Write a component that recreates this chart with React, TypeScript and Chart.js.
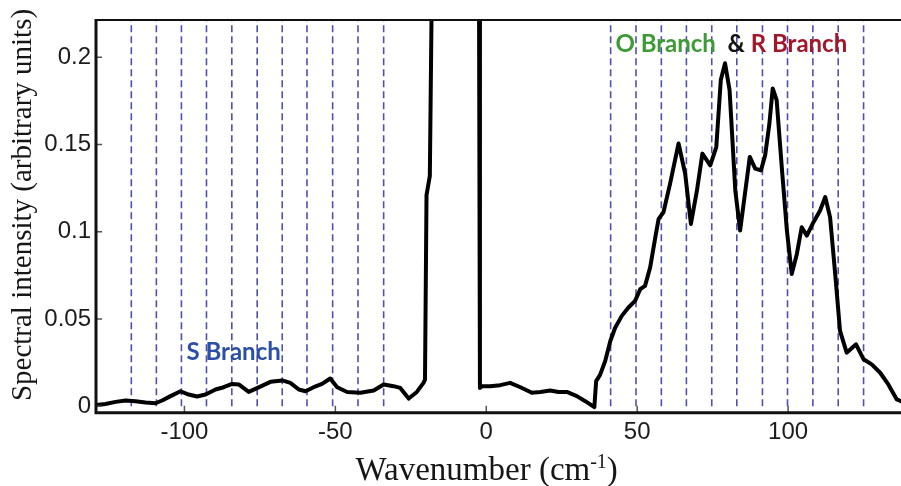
import { useEffect, useRef } from 'react';
import { Chart, registerables } from 'chart.js';

Chart.register(...registerables);

// Spectrum trace (wavenumber in cm^-1, intensity in arbitrary units)
const wavenumber = [
  -129.5, -126.2, -122.8, -119.5, -116.2, -112.9, -109.6, -107.4, -104.6, -101.3,
  -98.6, -95.8, -93.0, -89.7, -87.0, -84.2, -82.0, -78.7, -75.4, -71.5,
  -67.6, -64.9, -62.1, -59.9, -57.2, -54.4, -51.7, -49.4, -46.1, -41.7,
  -37.3, -34.0, -30.7, -28.5, -25.7, -23.0, -20.8, -20.3, -19.8, -18.7,
  -18.1, -10.0, -2.4, -2.1, -1.4, 1.3, 4.6, 7.9, 11.3, 15.1,
  17.9, 21.2, 23.9, 26.7, 30.0, 32.8, 35.8, 36.4, 37.7, 39.4,
  41.1, 42.7, 44.9, 47.1, 49.3, 51.0, 52.6, 54.3, 56.0, 57.1,
  58.7, 60.9, 63.7, 65.9, 67.8, 69.8, 71.6, 74.2, 76.2, 77.7,
  79.1, 80.6, 82.5, 84.1, 87.3, 89.1, 91.0, 92.4, 93.8, 94.9,
  96.2, 97.9, 99.6, 101.2, 102.9, 104.5, 106.2, 108.4, 110.6, 112.3,
  113.9, 115.6, 117.2, 119.4, 122.5, 125.0, 127.7, 130.5, 133.2, 136.0,
  137.4,
];
const intensity = [
  0.0006, 0.0013, 0.0025, 0.0033, 0.0029, 0.0021, 0.0017, 0.0033, 0.0058, 0.0086,
  0.0067, 0.0056, 0.0067, 0.0096, 0.0109, 0.0128, 0.0125, 0.0082, 0.0108, 0.014,
  0.0148, 0.0134, 0.0096, 0.0086, 0.0109, 0.0128, 0.0159, 0.0109, 0.0082, 0.0077,
  0.009, 0.0125, 0.0115, 0.0105, 0.0044, 0.0082, 0.0134, 0.0153, 0.121, 0.132,
  0.23, 0.6, 0.23, 0.0105, 0.0115, 0.0115, 0.0121, 0.0134, 0.0109, 0.0077,
  0.0082, 0.009, 0.0082, 0.0082, 0.0058, 0.0029, -0.0005, 0.0144, 0.018, 0.0259,
  0.0374, 0.045, 0.0518, 0.0566, 0.0604, 0.0671, 0.069, 0.0796, 0.0968, 0.1074,
  0.1112, 0.1276, 0.1506, 0.1333, 0.1045, 0.1237, 0.1448, 0.1381, 0.1486, 0.187,
  0.1966, 0.1813, 0.1237, 0.1007, 0.1429, 0.1362, 0.1352, 0.1439, 0.162, 0.1822,
  0.1755, 0.137, 0.1007, 0.0758, 0.0873, 0.1026, 0.0978, 0.1055, 0.1122, 0.1199,
  0.1084, 0.0758, 0.0432, 0.0307, 0.0355, 0.0269, 0.024, 0.0192, 0.0125, 0.0039,
  0.0029,
];

// Positions of the rotational lines (dashed markers)
const sBranchLines = [-117.6, -109.3, -101.0, -92.7, -84.3, -75.9, -67.6, -59.4, -50.9, -42.5, -34.0];
const orBranchLines = [41.2, 49.6, 58.0, 66.3, 74.7, 83.0, 91.5, 99.8, 108.2, 116.6, 125.0];

const xTicks = [-100, -50, 0, 50, 100];
const yTicks = [0, 0.05, 0.1, 0.15, 0.2];

const X_MIN = -129.3;
const X_MAX = 137.4;
const Y_MIN = -0.0037;
const Y_MAX = 0.2214;

const decorPlugin = {
  id: 'decor',
  afterDraw(chart: any) {
    const { ctx, chartArea } = chart;
    const xs = chart.scales.x;
    const ys = chart.scales.y;
    ctx.save();

    // inward tick marks
    ctx.strokeStyle = '#555';
    ctx.lineWidth = 1.5;
    ctx.beginPath();
    for (const v of xTicks) {
      const px = xs.getPixelForValue(v);
      ctx.moveTo(px, chartArea.bottom);
      ctx.lineTo(px, chartArea.bottom - 7);
    }
    for (const v of yTicks) {
      const py = ys.getPixelForValue(v);
      ctx.moveTo(chartArea.left, py);
      ctx.lineTo(chartArea.left + 6, py);
    }
    ctx.stroke();

    // frame
    ctx.strokeStyle = '#111';
    ctx.lineWidth = 2;
    ctx.beginPath();
    ctx.moveTo(chartArea.left, chartArea.top);
    ctx.lineTo(chartArea.right, chartArea.top);
    ctx.stroke();
    ctx.lineWidth = 3;
    ctx.beginPath();
    ctx.moveTo(chartArea.left, chartArea.top - 1);
    ctx.lineTo(chartArea.left, chartArea.bottom);
    ctx.lineTo(chartArea.right, chartArea.bottom);
    ctx.stroke();

    // annotations
    ctx.font = 'bold 24px Lato';
    ctx.textBaseline = 'middle';
    ctx.textAlign = 'center';
    ctx.fillStyle = '#2b4ea6';
    ctx.fillText('S Branch', xs.getPixelForValue(-83.7), ys.getPixelForValue(0.0308));

    ctx.textAlign = 'left';
    let tx = xs.getPixelForValue(42.8);
    const ty = ys.getPixelForValue(0.2075);
    const parts: [string, string][] = [
      ['O Branch', '#3d9a35'],
      ['  ', '#000'],
      ['&', '#111'],
      [' ', '#000'],
      ['R Branch', '#a3172b'],
    ];
    for (const [t, c] of parts) {
      ctx.fillStyle = c;
      ctx.fillText(t, tx, ty);
      tx += ctx.measureText(t).width;
    }

    // axis titles
    ctx.fillStyle = '#161616';
    ctx.textBaseline = 'alphabetic';
    const mainFont = '33px "Liberation Serif"';
    const supFont = '20px "Liberation Serif"';
    const t1 = 'Wavenumber (cm';
    const t2 = '-1';
    const t3 = ')';
    ctx.font = mainFont;
    const w1 = ctx.measureText(t1).width;
    const w3 = ctx.measureText(t3).width;
    ctx.font = supFont;
    const w2 = ctx.measureText(t2).width;
    const total = w1 + w2 + w3;
    let sx = 486.7 - total / 2;
    const baseY = 480;
    ctx.font = mainFont;
    ctx.fillText(t1, sx, baseY);
    sx += w1;
    ctx.font = supFont;
    ctx.fillText(t2, sx, baseY - 12);
    sx += w2;
    ctx.font = mainFont;
    ctx.fillText(t3, sx, baseY);

    ctx.translate(23, 205);
    ctx.rotate(-Math.PI / 2);
    ctx.textAlign = 'center';
    ctx.textBaseline = 'middle';
    ctx.font = '29px "Liberation Serif"';
    ctx.fillText('Spectral intensity (arbitrary units)', 0, 0);

    ctx.restore();
  },
};

export default function App() {
  const ref = useRef<HTMLCanvasElement | null>(null);

  useEffect(() => {
    if (!ref.current) return;
    const lineSets = [...sBranchLines, ...orBranchLines].map((v) => ({
      data: [
        { x: v, y: 0 },
        { x: v, y: Y_MAX },
      ],
      borderColor: '#4f4fb2',
      borderWidth: 1.6,
      borderDash: [7, 4],
      pointRadius: 0,
      order: 2,
    }));
    const chart = new Chart(ref.current, {
      type: 'line',
      data: {
        datasets: [
          {
            data: wavenumber.map((x, i) => ({ x, y: intensity[i] })),
            borderColor: '#000',
            borderWidth: 4,
            pointRadius: 0,
            tension: 0,
            borderJoinStyle: 'round',
            borderCapStyle: 'round',
            order: 0,
          },
          ...lineSets,
        ] as any,
      },
      options: {
        responsive: false,
        animation: false,
        layout: { padding: { top: 20, right: 0, left: 0, bottom: 0 } },
        plugins: { legend: { display: false }, tooltip: { enabled: false } },
        scales: {
          x: {
            type: 'linear',
            min: X_MIN,
            max: X_MAX,
            afterFit: (s: any) => {
              s.height = 73.3;
            },
            afterBuildTicks: (s: any) => {
              s.ticks = xTicks.map((value) => ({ value }));
            },
            grid: { display: false, drawTicks: false },
            border: { display: false },
            ticks: {
              color: '#1c1c1c',
              font: { family: '"Liberation Sans", Arial', size: 24 },
              padding: 5,
              maxRotation: 0,
              autoSkip: false,
            },
          },
          y: {
            type: 'linear',
            min: Y_MIN,
            max: Y_MAX,
            afterFit: (s: any) => {
              s.width = 96;
            },
            afterBuildTicks: (s: any) => {
              s.ticks = yTicks.map((value) => ({ value }));
            },
            grid: { display: false, drawTicks: false },
            border: { display: false },
            ticks: {
              color: '#1c1c1c',
              font: { family: '"Liberation Sans", Arial', size: 24 },
              padding: 5,
              autoSkip: false,
              callback: (v: any) => String(Number(Number(v).toFixed(2))),
            },
          },
        },
      },
      plugins: [decorPlugin],
    });
    return () => chart.destroy();
  }, []);

  return (
    <div style={{ position: 'absolute', left: 0, top: 0, width: 901, height: 486, background: '#fff' }}>
      <canvas ref={ref} width={901} height={486} />
    </div>
  );
}
